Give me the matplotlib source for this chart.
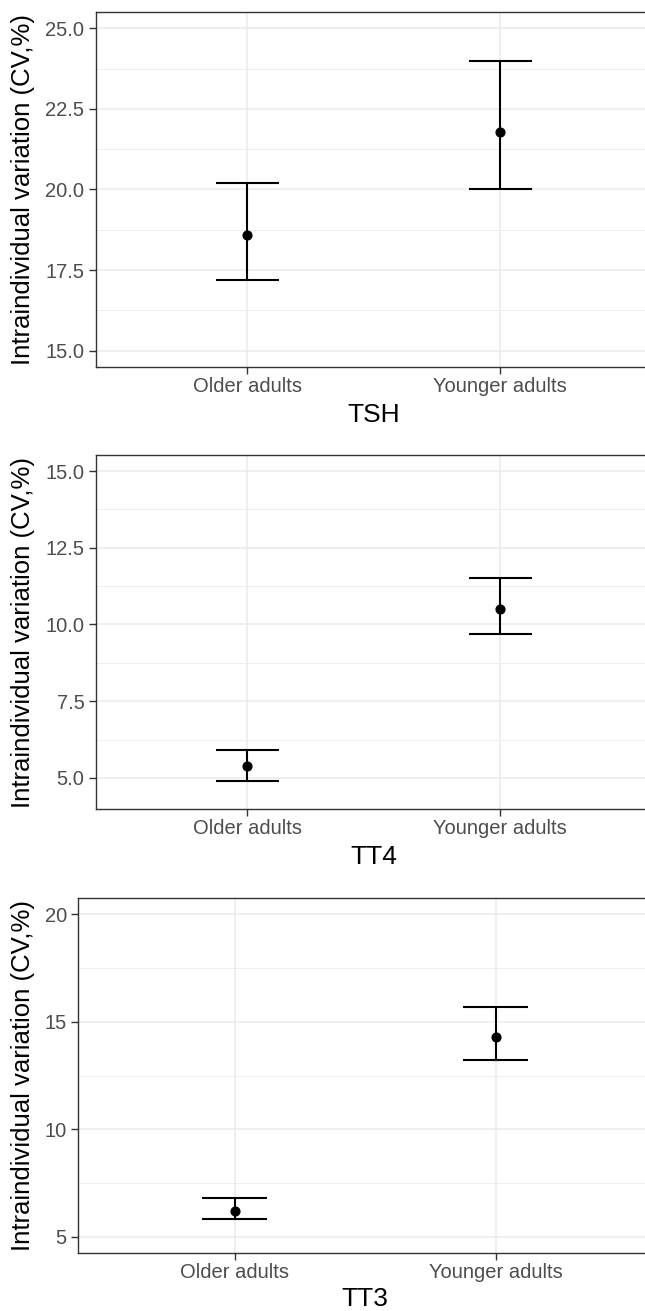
import matplotlib
matplotlib.use("Agg")
import matplotlib.pyplot as plt
from matplotlib.ticker import FixedLocator

plt.rcParams['font.family'] = ['Liberation Sans', 'DejaVu Sans']

# ---- data ----
groups = ["Older adults", "Younger adults"]
panels = ["TSH", "TT4", "TT3"]

tsh_mean = [18.6, 21.8]
tsh_low = [17.2, 20.0]
tsh_high = [20.2, 24.0]

tt4_mean = [5.4, 10.5]
tt4_low = [4.9, 9.7]
tt4_high = [5.9, 11.5]

tt3_mean = [6.2, 14.3]
tt3_low = [5.8, 13.2]
tt3_high = [6.8, 15.7]

tsh_ticks = [15.0, 17.5, 20.0, 22.5, 25.0]
tt4_ticks = [5.0, 7.5, 10.0, 12.5, 15.0]
tt3_ticks = [5, 10, 15, 20]

tsh_ticklabels = ["15.0", "17.5", "20.0", "22.5", "25.0"]
tt4_ticklabels = ["5.0", "7.5", "10.0", "12.5", "15.0"]
tt3_ticklabels = ["5", "10", "15", "20"]

ylabel = "Intraindividual variation (CV,%)"

# ---- layout (pixels) ----
W, H = 645, 1311
fig = plt.figure(figsize=(W / 100, H / 100), dpi=100)

# (left, right, top, bottom, ylim, minor gridlines, title centre y)
layout = [
    (95.7, 652.0, 12.3, 366.7, (14.5, 25.5), [16.25, 18.75, 21.25, 23.75], 415.0),
    (95.7, 652.0, 455.0, 809.3, (3.975, 15.525), [3.75, 6.25, 8.75, 11.25, 13.75], 857.0),
    (78.0, 652.5, 898.3, 1252.7, (4.25, 20.75), [7.5, 12.5, 17.5], 1299.0),
]
data = [
    (tsh_mean, tsh_low, tsh_high, tsh_ticks, tsh_ticklabels),
    (tt4_mean, tt4_low, tt4_high, tt4_ticks, tt4_ticklabels),
    (tt3_mean, tt3_low, tt3_high, tt3_ticks, tt3_ticklabels),
]

cap_w = 0.25
xpos = [1, 2]
grid_c = "#EBEBEB"
frame_c = "#333333"
text_c = "#4D4D4D"

for (l, r, t, b, ylim, minor, title_y), (m, lo, hi, ticks, tlabels), name in zip(layout, data, panels):
    ax = fig.add_axes([l / W, 1 - b / H, (r - l) / W, (b - t) / H])
    ax.set_xlim(0.4, 2.6)
    ax.set_ylim(*ylim)
    ax.set_xticks(xpos)
    ax.set_xticklabels(groups)
    ax.set_yticks(ticks)
    ax.set_yticklabels(tlabels)
    ax.yaxis.set_minor_locator(FixedLocator(minor))
    ax.grid(True, which="major", color=grid_c, lw=1.1, zorder=0)
    ax.grid(True, which="minor", axis="y", color=grid_c, lw=0.6, zorder=0)
    ax.set_axisbelow(True)
    for s in ax.spines.values():
        s.set_color(frame_c)
        s.set_linewidth(1.0)
    ax.tick_params(which="major", direction="out", length=4.8, width=1.0, color=frame_c,
                   labelcolor=text_c, labelsize=14.5, pad=2.3)
    ax.tick_params(axis="y", pad=3.3)
    ax.tick_params(which="minor", length=0)

    ax.vlines(xpos, lo, hi, color="black", lw=1.5, zorder=3)
    ax.hlines(lo, [x - cap_w / 2 for x in xpos], [x + cap_w / 2 for x in xpos], color="black", lw=1.5, zorder=3)
    ax.hlines(hi, [x - cap_w / 2 for x in xpos], [x + cap_w / 2 for x in xpos], color="black", lw=1.5, zorder=3)
    ax.plot(xpos, m, "o", color="black", ms=6.3, zorder=4)

    ax.set_ylabel(ylabel, fontsize=18.5, color="black", va="center")
    ax.yaxis.set_label_coords((23 - l) / (r - l), 0.5)
    ax.set_xlabel(name, fontsize=19, color="black", va="center")
    ax.xaxis.set_label_coords(0.5, (b - title_y) / (b - t))

fig.savefig("out.png", dpi=100)
